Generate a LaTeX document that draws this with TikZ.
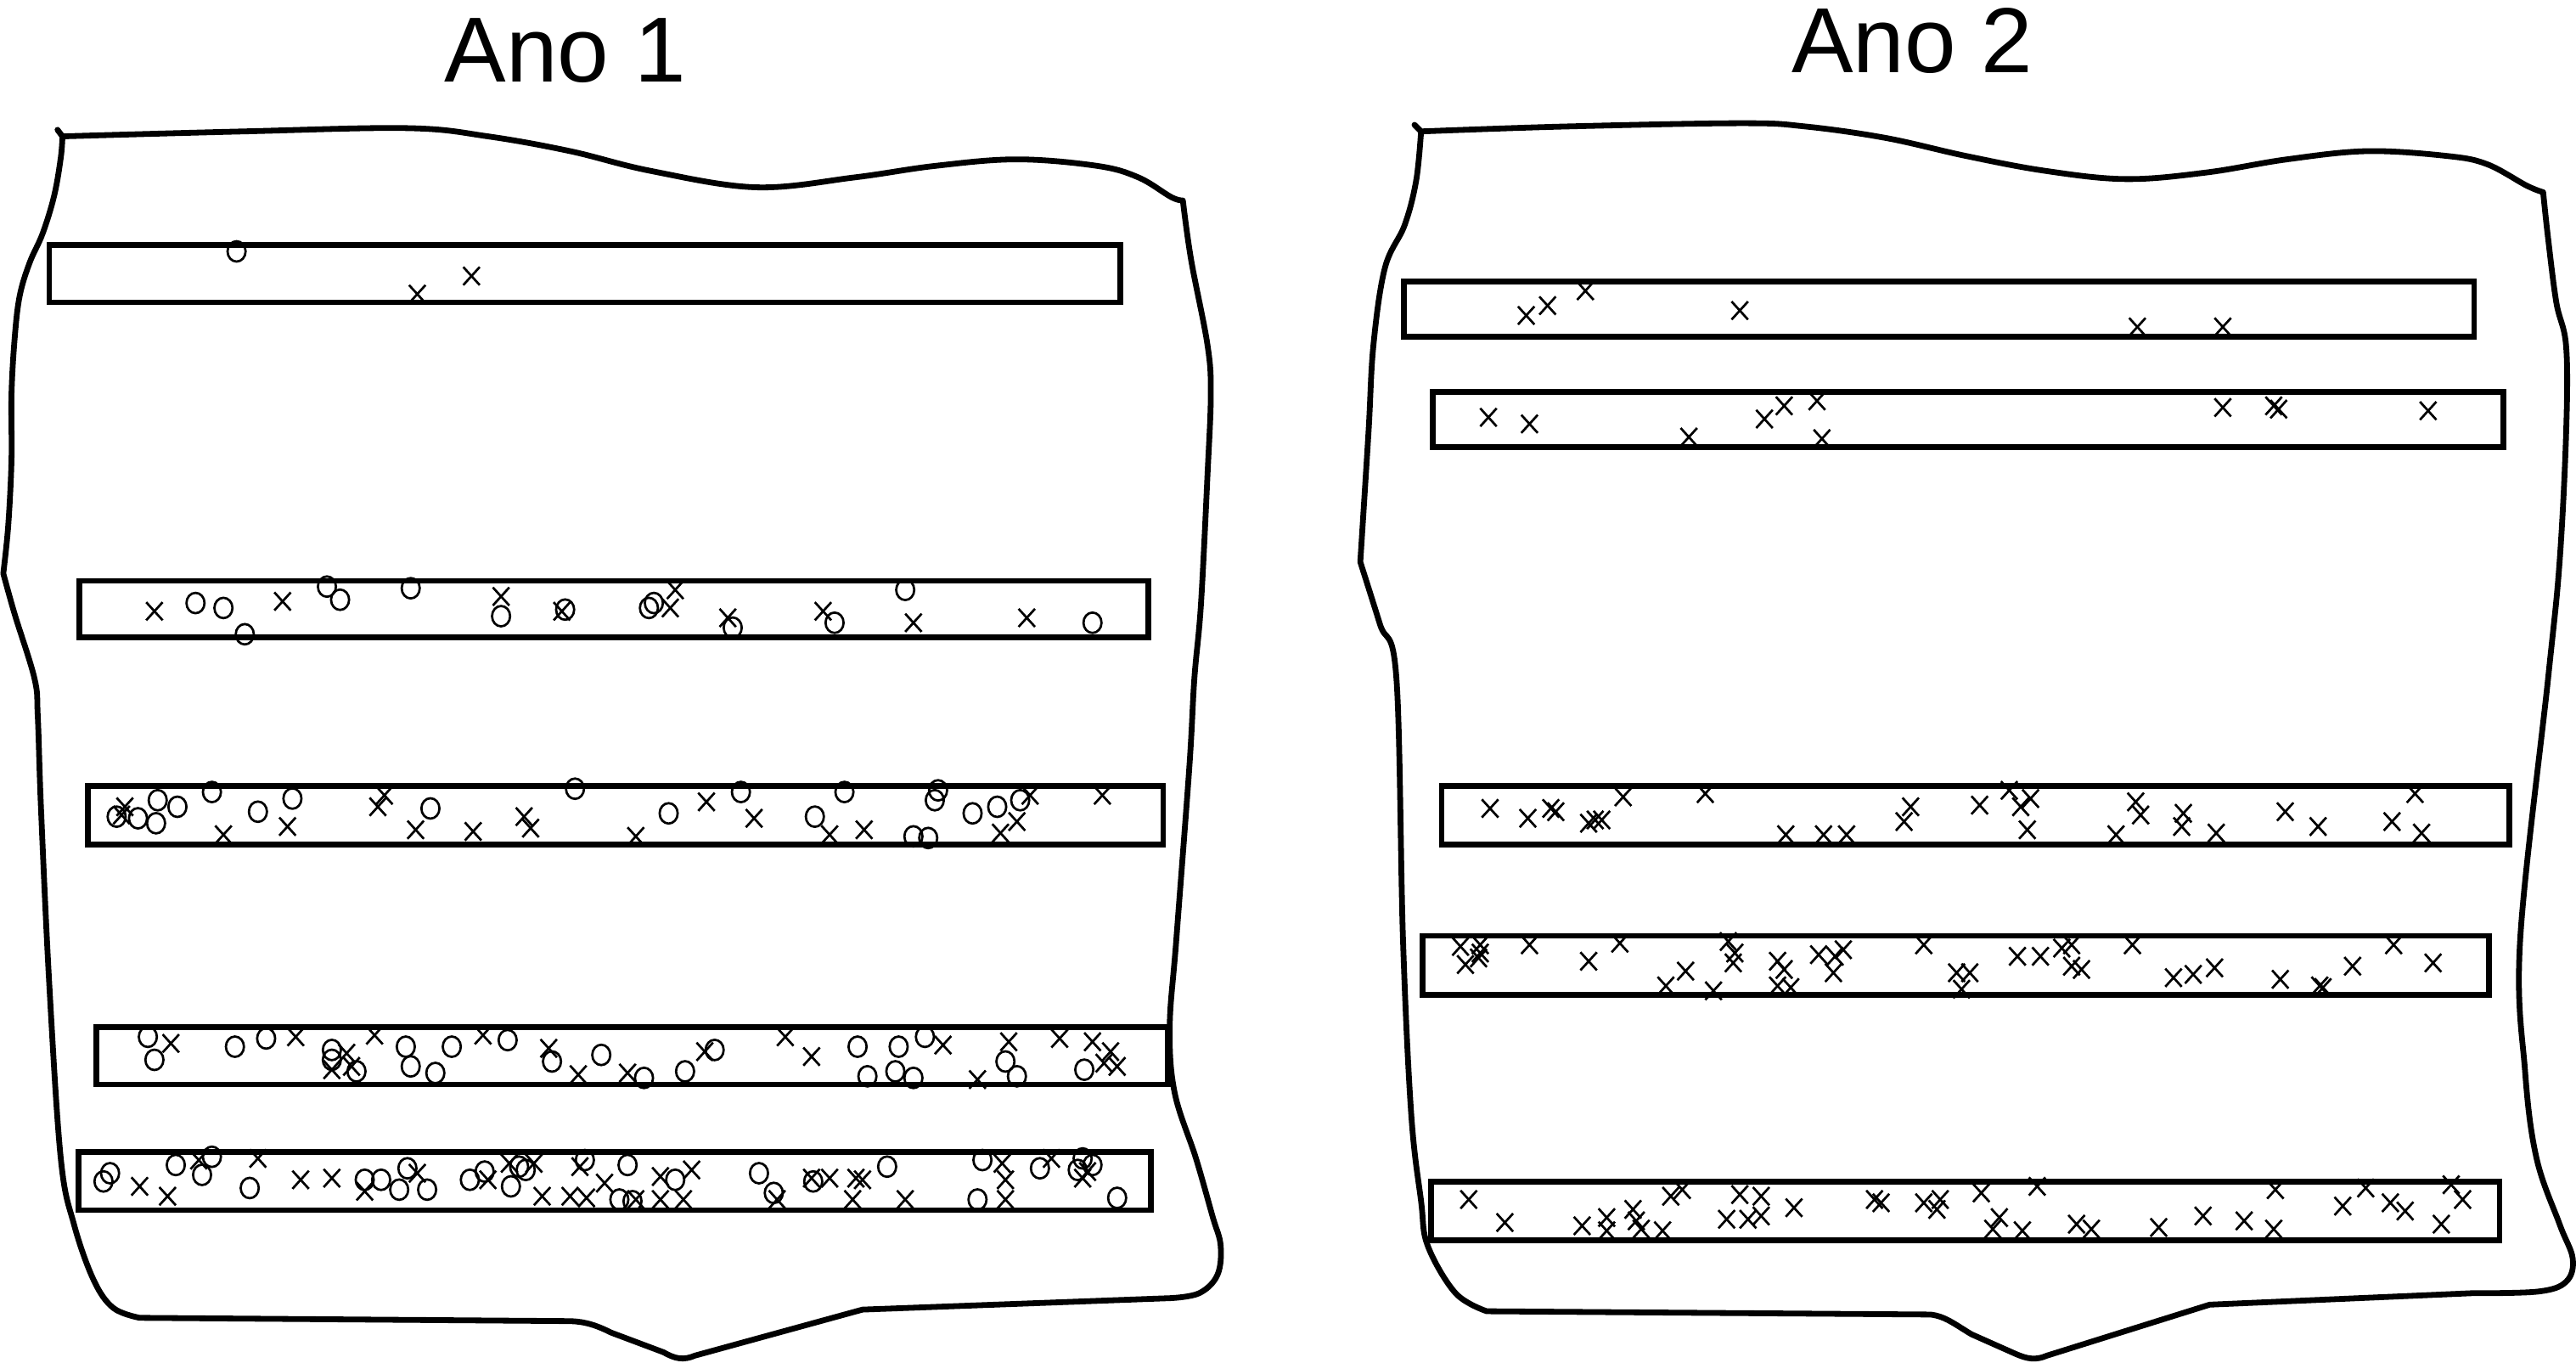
\documentclass[tikz,border=0pt]{standalone}
\usepackage{fontspec}
\setmainfont{Liberation Sans}

\begin{document}
\begin{tikzpicture}[x=0.1mm, y=-0.1mm,
  contorno/.style={line width=1pt, line join=round, line cap=round},
  faixa/.style={line width=1pt},
  marca/.style={line width=0.4pt},
  titulo/.style={font=\fontsize{16}{19}\selectfont, anchor=base, inner sep=0pt}]
\useasboundingbox (0,0) rectangle (1568,829);
% --- titles ---
\node[titulo] (ano1) at (344,50) {Ano 1};
\node[titulo] (ano2) at (1164,44) {Ano 2};
% --- field outline, Ano 1 ---
\draw[contorno] (35,79) -- (38,83)
  -- plot[smooth, tension=0.6] coordinates {(38,83) (148,80) (248,78) (297,83)
     (347,92) (396,104) (460,114) (520,108) (569,101) (619,97) (668,101)
     (693,108) (713,120) (720,122)}
  -- plot[smooth, tension=0.6] coordinates {(720,122) (725,158) (735,210)
     (737,240) (735,289) (731,368) (727,413) (724,466) (716,572) (712,625)
     (715,665) (728,705) (738,740) (743,758) (741,776) (730,787) (713,790)}
  -- (525,797) -- (423,825) .. controls (416,828) and (411,827) .. (404,823)
  -- (372,811) .. controls (362,806) and (355,804) .. (345,804) -- (85,802)
  -- plot[smooth, tension=0.6] coordinates {(85,802) (69,796) (57,779) (45,745)
     (37,705) (30,599) (25,493) (23,436) (21,413) (9,374) (2,349)}
  -- plot[smooth, tension=0.6] coordinates {(2,349) (5,320) (7,280) (7,240)
     (9,205) (12,180) (18,160) (26,142) (33,119) (37,96) (38,83)};
% --- field outline, Ano 2 ---
\draw[contorno] (861,76) -- (865,80)
  -- plot[smooth, tension=0.6] coordinates {(865,80) (953,77) (1060,75)
     (1099,77) (1148,84) (1197,95) (1245,104) (1294,109) (1343,105) (1392,97)
     (1441,92) (1490,95) (1514,100) (1538,113) (1548,117)}
  -- plot[smooth, tension=0.6] coordinates {(1548,117) (1551,145) (1556,184)
     (1562,211) (1562,263) (1558,342) (1551,413) (1534,572) (1537,652)
     (1544,705) (1558,745) (1566,766) (1562,780) (1545,786) (1505,787)}
  -- (1345,794) -- (1246,825) .. controls (1239,828) and (1234,827) .. (1227,824)
  -- (1200,812) .. controls (1190,806) and (1184,801) .. (1175,800) -- (905,798)
  -- plot[smooth, tension=0.6] coordinates {(905,798) (886,787) (869,758)
     (865,731) (859,678) (854,572) (850,413) (840,380) (828,342)}
  -- plot[smooth, tension=0.6] coordinates {(828,342) (833,263) (836,210)
     (843,163) (855,137) (862,110) (865,80)};
% --- Ano 1: circles ---
\foreach \x/\y in {144/153,
  119/367, 136/370, 149/386, 199/357, 207/365, 250/358, 305/375, 344/371,
  395/370, 398/367, 446/382, 508/379, 551/359, 665/379,
  71/497, 84/498, 96/487, 108/491, 95/501, 129/482, 157/494, 178/486,
  262/492, 350/480, 407/495, 451/482, 496/497, 514/482, 571/481, 569/487,
  556/509, 565/510, 592/495, 607/491, 621/487,
  90/631, 94/645, 143/637, 162/632, 202/639, 202/645, 217/652, 247/637,
  250/649, 265/653, 275/637, 309/633, 336/646, 366/642, 392/656, 417/652,
  435/639, 522/637, 547/637, 563/631, 528/655, 545/652, 556/656, 612/646,
  619/655, 660/651,
  67/714, 63/719, 107/709, 123/715, 129/704, 152/723, 222/718, 232/718,
  243/724, 248/711, 260/724, 286/718, 295/713, 311/722, 316/710, 320/712,
  356/706, 382/709, 377/730, 385/731, 411/718, 462/714, 471/726, 495/719,
  540/710, 598/706, 595/730, 633/711, 659/705, 656/712, 665/709, 680/729}
  \draw[marca] (\x,\y) ellipse[x radius=0.55mm, y radius=0.62mm];
% --- Ano 1: crosses ---
\foreach \x/\y in {254/179, 287/168,
  94/372, 172/366, 305/363, 342/372, 411/359, 408/370, 443/376, 501/372,
  556/379, 625/376,
  76/491, 74/496, 136/508, 175/503, 234/484, 230/491, 253/505, 288/506,
  319/497, 323/504, 387/509, 430/488, 459/498, 505/508, 526/505, 627/484,
  619/500, 609/507, 671/484,
  104/635, 180/631, 211/641, 202/651, 214/649, 228/630, 294/630, 334/638,
  352/654, 382/653, 429/640, 478/631, 494/643, 574/636, 595/657, 614/634,
  645/632, 665/634, 676/640, 672/647, 680/649,
  85/722, 102/728, 121/706, 157/705, 183/718, 202/717, 222/725, 254/714,
  297/718, 310/708, 325/708, 330/728, 347/728, 357/729, 353/710, 368/720,
  387/730, 402/730, 416/730, 402/716, 421/712, 473/730, 494/717, 505/717,
  521/717, 525/718, 519/730, 551/730, 610/708, 612/718, 612/730, 640/705,
  662/713, 659/717}
  \draw[marca] (\x-5,\y-5.5) -- (\x+5,\y+5.5) (\x-5,\y+5.5) -- (\x+5,\y-5.5);
% --- Ano 2: crosses ---
\foreach \x/\y in {929/192, 942/186, 965/177, 1059/189, 1301/199, 1353/199,
  906/254, 931/258, 1028/266, 1074/255, 1086/247, 1106/244, 1109/267,
  1353/248, 1384/247, 1387/249, 1478/250,
  907/492, 930/498, 944/492, 947/494, 967/501, 971/499, 975/499, 988/485,
  1038/483, 1087/508, 1110/508, 1124/508, 1163/491, 1159/500, 1205/490,
  1223/481, 1236/486, 1230/491, 1234/505, 1300/488, 1303/496, 1288/508,
  1329/495, 1328/503, 1349/507, 1391/494, 1411/503, 1456/500, 1470/483,
  1474/507,
  889/576, 901/575, 901/580, 900/583, 892/587, 931/575, 967/585, 986/574,
  1026/591, 1014/600, 1043/603, 1052/573, 1056/580, 1055/586, 1082/585,
  1086/590, 1082/600, 1090/601, 1107/581, 1117/582, 1122/578, 1116/592,
  1171/575, 1191/592, 1199/592, 1194/602, 1228/582, 1242/582, 1255/577,
  1261/575, 1261/588, 1267/590, 1298/575, 1323/595, 1335/593, 1348/589,
  1388/596, 1412/600, 1414/601, 1432/588, 1457/575, 1481/586,
  894/730, 916/744, 963/746, 978/741, 978/749, 994/736, 996/743, 999/748,
  1012/749, 1017/728, 1024/724, 1051/742, 1064/742, 1072/740, 1059/727,
  1072/728, 1092/735, 1141/730, 1145/732, 1171/732, 1181/730, 1179/736,
  1206/726, 1240/722, 1217/741, 1213/748, 1231/749, 1264/745, 1273/748,
  1314/747, 1341/740, 1366/743, 1385/724, 1384/748, 1426/734, 1440/723,
  1455/732, 1464/737, 1486/745, 1492/721, 1499/730}
  \draw[marca] (\x-5,\y-5.5) -- (\x+5,\y+5.5) (\x-5,\y+5.5) -- (\x+5,\y-5.5);
% --- sampling strips ---
\draw[faixa] (30,149) rectangle (682,184);
\draw[faixa] (48.5,353.5) rectangle (699,388);
\draw[faixa] (53.5,478.5) rectangle (708,514);
\draw[faixa] (58.5,625) rectangle (711,660);
\draw[faixa] (48,701) rectangle (700.5,736.5);
\draw[faixa] (854.5,171.5) rectangle (1506,205);
\draw[faixa] (872,238.5) rectangle (1524,272);
\draw[faixa] (877.5,478.5) rectangle (1527.5,514);
\draw[faixa] (866,569.5) rectangle (1515,605.5);
\draw[faixa] (871,719) rectangle (1521.5,755);
\end{tikzpicture}
\end{document}
